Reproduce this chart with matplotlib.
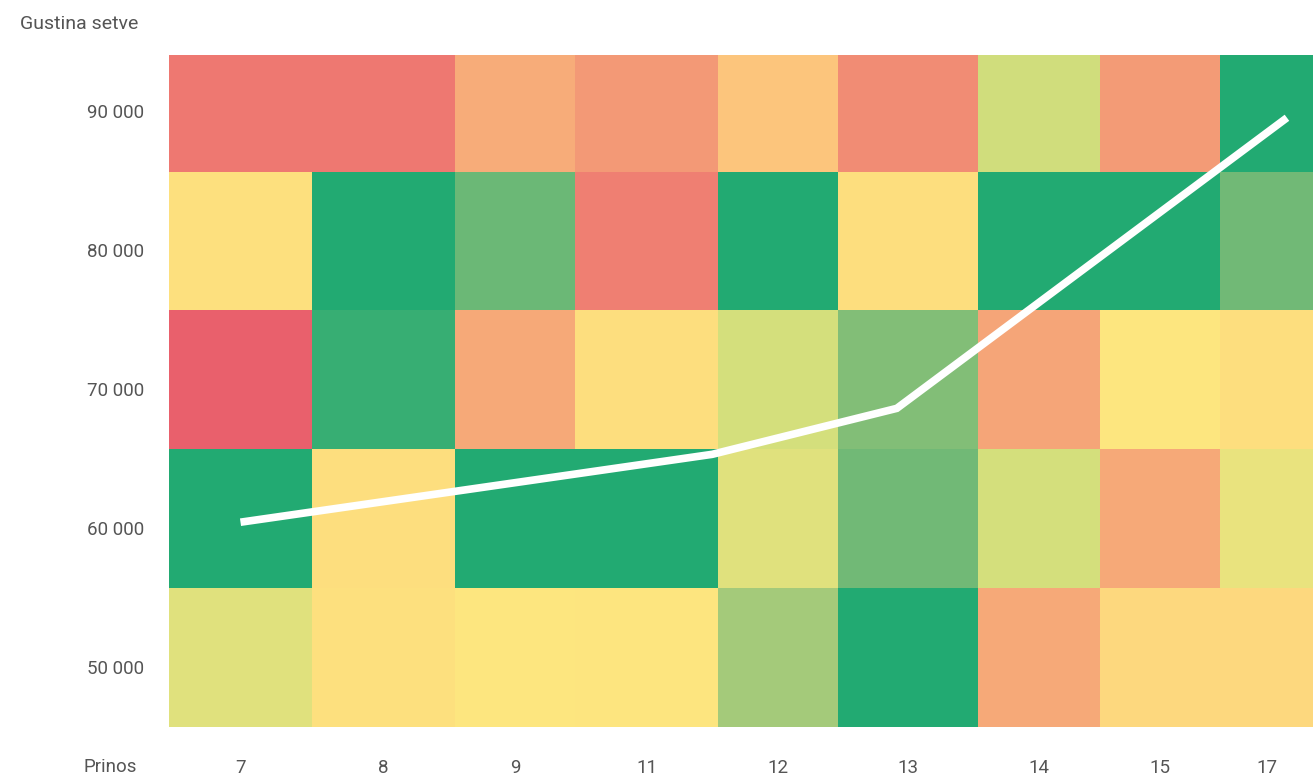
import matplotlib.pyplot as plt
import matplotlib.transforms as mtransforms
import numpy as np
from matplotlib.colors import LinearSegmentedColormap

# yield classes (columns) and seeding density (rows)
prinos = ["7", "8", "9", "11", "12", "13", "14", "15", "17"]
gustina = [50000, 60000, 70000, 80000, 90000]

# relative score per cell (0 = worst/red, 1 = best/green), rows bottom -> top
scores = np.array([
    [0.62, 0.53, 0.55, 0.545, 0.75, 1.00, 0.32, 0.50, 0.50],  # 50 000
    [1.00, 0.52, 1.00, 1.00, 0.62, 0.85, 0.65, 0.32, 0.60],   # 60 000
    [0.00, 0.96, 0.32, 0.52, 0.65, 0.82, 0.30, 0.55, 0.52],   # 70 000
    [0.53, 1.00, 0.86, 0.15, 1.00, 0.52, 1.00, 1.00, 0.85],   # 80 000
    [0.12, 0.12, 0.33, 0.25, 0.43, 0.20, 0.66, 0.26, 1.00],   # 90 000
])

# optimal density line (x as fractional column position)
line_x = [0.5, 3.96, 5.42, 8.72]
line_y = [59750, 64640, 67950, 88880]

# column widths in the original layout
col_w = np.array([143, 143, 120, 143, 120, 140, 122, 120, 93], dtype=float)

cmap = LinearSegmentedColormap.from_list("ryg", [
    (0.0, "#e9606c"), (0.15, "#ef7f72"), (0.3, "#f5a578"), (0.45, "#fdc97c"),
    (0.55, "#fde67f"), (0.65, "#d4df7c"), (0.75, "#a5ca7a"), (0.85, "#72b976"),
    (1.0, "#22aa72")])

plt.rcParams['font.family'] = ['Roboto', 'DejaVu Sans']
grey = "#555555"

fig = plt.figure(figsize=(13.13, 7.79), dpi=100)
ax = fig.add_axes([169 / 1313, 52 / 779, 1 - 169 / 1313, (727 - 55) / 779])

xedges = np.concatenate([[0], np.cumsum(col_w)])
yedges = np.array([g - 5000 for g in gustina] + [gustina[-1] + 5000])
ax.pcolormesh(xedges, yedges, scores, cmap=cmap, vmin=0, vmax=1, shading="flat")

# map fractional column positions to the same x scale
lx = np.interp(line_x, np.arange(len(xedges)), xedges)
ax.plot(lx, line_y, color="white", lw=5.5, solid_capstyle="butt", solid_joinstyle="miter")

ax.set_xlim(xedges[0], xedges[-1])
ax.set_ylim(45000, 93400)

centers = (xedges[:-1] + xedges[1:]) / 2
ax.set_xticks(centers)
ax.set_xticklabels(prinos)
ax.set_yticks(gustina)
ax.set_yticklabels([f"{g // 1000} 000" for g in gustina])
ax.tick_params(length=0, labelsize=13.5, labelcolor=grey)
ax.tick_params(axis="x", pad=23)
ax.tick_params(axis="y", pad=18)
shift = mtransforms.ScaledTranslation(0, -0.09, fig.dpi_scale_trans)
for lab in ax.get_yticklabels():
    lab.set_transform(lab.get_transform() + shift)
for s in ax.spines.values():
    s.set_visible(False)

fig.text(110 / 1313, 1 - 767 / 779, "Prinos", ha="center", va="center", fontsize=13.5, color=grey)
fig.text(20 / 1313, 1 - 24 / 779, "Gustina setve", ha="left", va="center", fontsize=14, color=grey)

fig.savefig("out.png", dpi=100)
